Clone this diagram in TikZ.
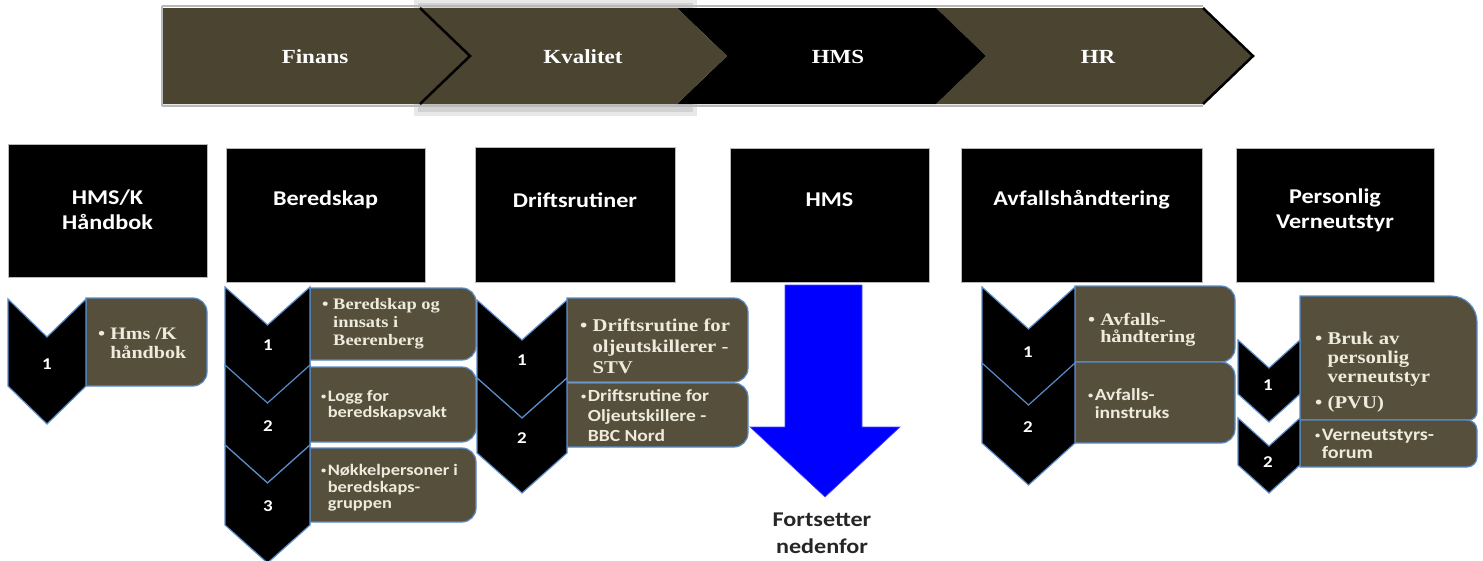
\documentclass[tikz,border=0pt]{standalone}
\usepackage{fontspec}
\setmainfont{Liberation Serif}[FakeStretch=1.15]
\newfontfamily\carl{Carlito}[FakeStretch=1.15]

\definecolor{bandolive}{HTML}{4A4430}
\definecolor{boxolive}{HTML}{554F3B}
\definecolor{edgeblue}{HTML}{5B8CC8}
\definecolor{itemtext}{HTML}{EEEBDD}
\definecolor{arrowblue}{HTML}{0000FF}

% list box: square on the left, rounded on the right (x1 y1 x2 y2 r-top r-bottom)
\newcommand\ListBox[6]{%
  \path[lbox] (#1,#2) -- ({#3-#5},#2) arc[start angle=90,end angle=0,radius=#5pt]
    -- (#3,{#4-#6}) arc[start angle=0,end angle=-90,radius=#6pt] -- (#1,#4) -- cycle;}
% downward chevron (x-left x-right y-top y-bottom depth)
\newcommand\ChevDown[5]{%
  \path[chev] (#1,#3) -- ({(#1+#2)/2},{#3+#5}) -- (#2,#3) -- (#2,#4)
    -- ({(#1+#2)/2},{#4+#5}) -- (#1,#4) -- cycle;}
% small bullet for the sans-serif items
\newcommand\sbul{\raisebox{0.12em}{\fontsize{9}{9}\selectfont•}\hspace{1.5pt}}

\begin{document}
\begin{tikzpicture}[x=1pt,y=-1pt,
  chev/.style={fill=black, draw=edgeblue, line width=1.2pt, line join=miter},
  lbox/.style={fill=boxolive, draw=edgeblue, line width=1.2pt},
  bandchev/.style={fill=bandolive},
  hdrbox/.style={fill=black, draw=gray!55, line width=0.8pt, inner sep=0pt},
  hdrtext/.style={text=white, align=center, inner sep=0pt,
    font=\carl\bfseries\fontsize{21}{25}\selectfont},
  bandtext/.style={text=white, inner sep=0pt, font=\bfseries\fontsize{20}{24}\selectfont},
  numtext/.style={text=white, inner sep=0pt, font=\carl\bfseries\fontsize{16.5}{18}\selectfont},
  serifitem/.style 2 args={anchor=west, align=left, inner sep=0pt, text=itemtext,
    font=\bfseries\fontsize{#1}{#2}\selectfont},
  sansitem/.style 2 args={anchor=west, align=left, inner sep=0pt, text=itemtext,
    font=\carl\bfseries\fontsize{#1}{#2}\selectfont},
  notetext/.style={text=black!85, align=center, inner sep=0pt,
    font=\carl\bfseries\fontsize{21}{27}\selectfont}]
\useasboundingbox (0,0) rectangle (1483,560);

% ---------- process band ----------
\fill[gray!18] (414,0) rectangle (697,116);
\fill[gray!35] (418,3) rectangle (693,112);
\draw[gray!55, line width=2.5pt] (162,6) -- (1203,6) (162,106) -- (1203,106) (162,6) -- (162,106);
\path[bandchev] (936,8) -- (1203,8) -- (1253,56) -- (1203,104) -- (936,104) -- (986,56) -- cycle;
\draw[black, line width=2.5pt] (1203,8) -- (1253,56) -- (1203,104);
\path[fill=black] (677,8) -- (936,8) -- (986,56) -- (936,104) -- (677,104) -- (727,56) -- cycle;
\path[bandchev] (420,8) -- (677,8) -- (727,56) -- (677,104) -- (420,104) -- (470,56) -- cycle;
\path[bandchev] (163,8) -- (420,8) -- (470,56) -- (420,104) -- (163,104) -- cycle;
\draw[black, line width=2.5pt] (420,8) -- (470,56) -- (420,104);

\node[bandtext] (finans) at (315,57) {Finans};
\node[bandtext] (kvalitet) at (583,57) {Kvalitet};
\node[bandtext] (hmsband) at (838,57) {HMS};
\node[bandtext] (hr) at (1098,57) {HR};

% ---------- category headers ----------
\node[hdrbox, anchor=north west, minimum width=199pt, minimum height=133pt] (h1) at (8,144) {};
\node[hdrbox, anchor=north west, minimum width=199pt, minimum height=134pt] (h2) at (226,148) {};
\node[hdrbox, anchor=north west, minimum width=200pt, minimum height=135pt] (h3) at (475,147) {};
\node[hdrbox, anchor=north west, minimum width=199pt, minimum height=134pt] (h4) at (730,148) {};
\node[hdrbox, anchor=north west, minimum width=241pt, minimum height=134pt] (h5) at (961,148) {};
\node[hdrbox, anchor=north west, minimum width=198pt, minimum height=134pt] (h6) at (1236,148) {};

\node[hdrtext] (h1t) at (107.5,210) {HMS/K\\Håndbok};
\node[hdrtext] (h2t) at (325.5,200) {Beredskap};
\node[hdrtext] (h3t) at (575,200) {Driftsrutiner};
\node[hdrtext] (h4t) at (829.5,200) {HMS};
\node[hdrtext] (h5t) at (1081.5,200) {Avfallshåndtering};
\node[hdrtext] (h6t) at (1335,210) {Personlig\\Verneutstyr};

% ---------- HMS/K Håndbok ----------
\ListBox{86}{298}{207}{386}{14}{14}
\ChevDown{8}{86}{299}{386}{38}
\node[numtext] (c1n1) at (47,364) {1};
\node[serifitem={17.5}{19}] (c1i1) at (98,343) {•\ Hms /K\\\phantom{•\ }håndbok};

% ---------- Beredskap ----------
\ListBox{310}{288}{476}{360}{14}{14}
\ListBox{310}{367}{476}{442}{14}{14}
\ListBox{310}{448}{476}{522}{14}{14}
\ChevDown{225}{310}{287}{367}{38}
\ChevDown{225}{310}{365}{445}{38}
\ChevDown{225}{310}{445}{525}{38}
\node[numtext] (c2n1) at (268,345) {1};
\node[numtext] (c2n2) at (268,426) {2};
\node[numtext] (c2n3) at (268,506) {3};
\node[serifitem={16}{18}] (c2i1) at (322,324)
  {•\ Beredskap og\\\phantom{•\ }innsats i\\\phantom{•\ }Beerenberg};
\node[sansitem={16}{16.5}] (c2i2) at (321,405)
  {\sbul Logg for\\\phantom{\sbul}beredskapsvakt};
\node[sansitem={16}{16.5}] (c2i3) at (321,488)
  {\sbul Nøkkelpersoner i\\\phantom{\sbul}beredskaps-\\\phantom{\sbul}gruppen};

% ---------- Driftsrutiner ----------
\ListBox{567}{298}{748}{382}{14}{14}
\ListBox{567}{383}{748}{447}{14}{14}
\ChevDown{477}{567}{300}{378}{40}
\ChevDown{477}{567}{378}{453}{40}
\node[numtext] (c3n1) at (522,360) {1};
\node[numtext] (c3n2) at (522,438) {2};
\node[serifitem={18}{21}] (c3i1) at (580,346)
  {•\ Driftsrutine for\\\phantom{•\ }oljeutskillerer -\\\phantom{•\ }STV};
\node[sansitem={17}{20}] (c3i2) at (581,416)
  {\sbul Driftsrutine for\\\phantom{\sbul}Oljeutskillere -\\\phantom{\sbul}BBC Nord};

% ---------- HMS: continues below ----------
\path[fill=arrowblue, draw=arrowblue!70!white, line width=0.6pt]
  (785,285) -- (862,285) -- (862,427) -- (900,427) -- (825,497)
  -- (750,427) -- (785,427) -- cycle;
\node[notetext] (cont) at (822,533) {Fortsetter\\nedenfor};

% ---------- Avfallshåndtering ----------
\ListBox{1075}{286}{1235}{362}{14}{14}
\ListBox{1075}{362}{1235}{443}{14}{14}
\ChevDown{982}{1075}{287}{365}{42}
\ChevDown{982}{1075}{363}{443}{42}
\node[numtext] (c5n1) at (1028,352) {1};
\node[numtext] (c5n2) at (1028,427) {2};
\node[serifitem={17.5}{17}] (c5i1) at (1088,330)
  {•\ Avfalls-\\\phantom{•\ }håndtering};
\node[sansitem={17}{18}] (c5i2) at (1088,404)
  {\sbul Avfalls-\\\phantom{\sbul}innstruks};

% ---------- Personlig Verneutstyr ----------
\ListBox{1300}{296}{1477}{420}{26}{8}
\ListBox{1300}{420}{1477}{467}{10}{10}
\ChevDown{1238}{1300}{340}{394}{28}
\ChevDown{1238}{1300}{418}{465}{28}
\node[numtext] (c6n1) at (1268,385) {1};
\node[numtext] (c6n2) at (1268,462) {2};
\node[serifitem={18}{19}] (c6i1) at (1315,372)
  {•\ Bruk av\\\phantom{•\ }personlig\\\phantom{•\ }verneutstyr\\[7pt]•\ (PVU)};
\node[sansitem={17.5}{18}] (c6i2) at (1315,444)
  {\sbul Verneutstyrs-\\\phantom{\sbul}forum};
\end{tikzpicture}
\end{document}
